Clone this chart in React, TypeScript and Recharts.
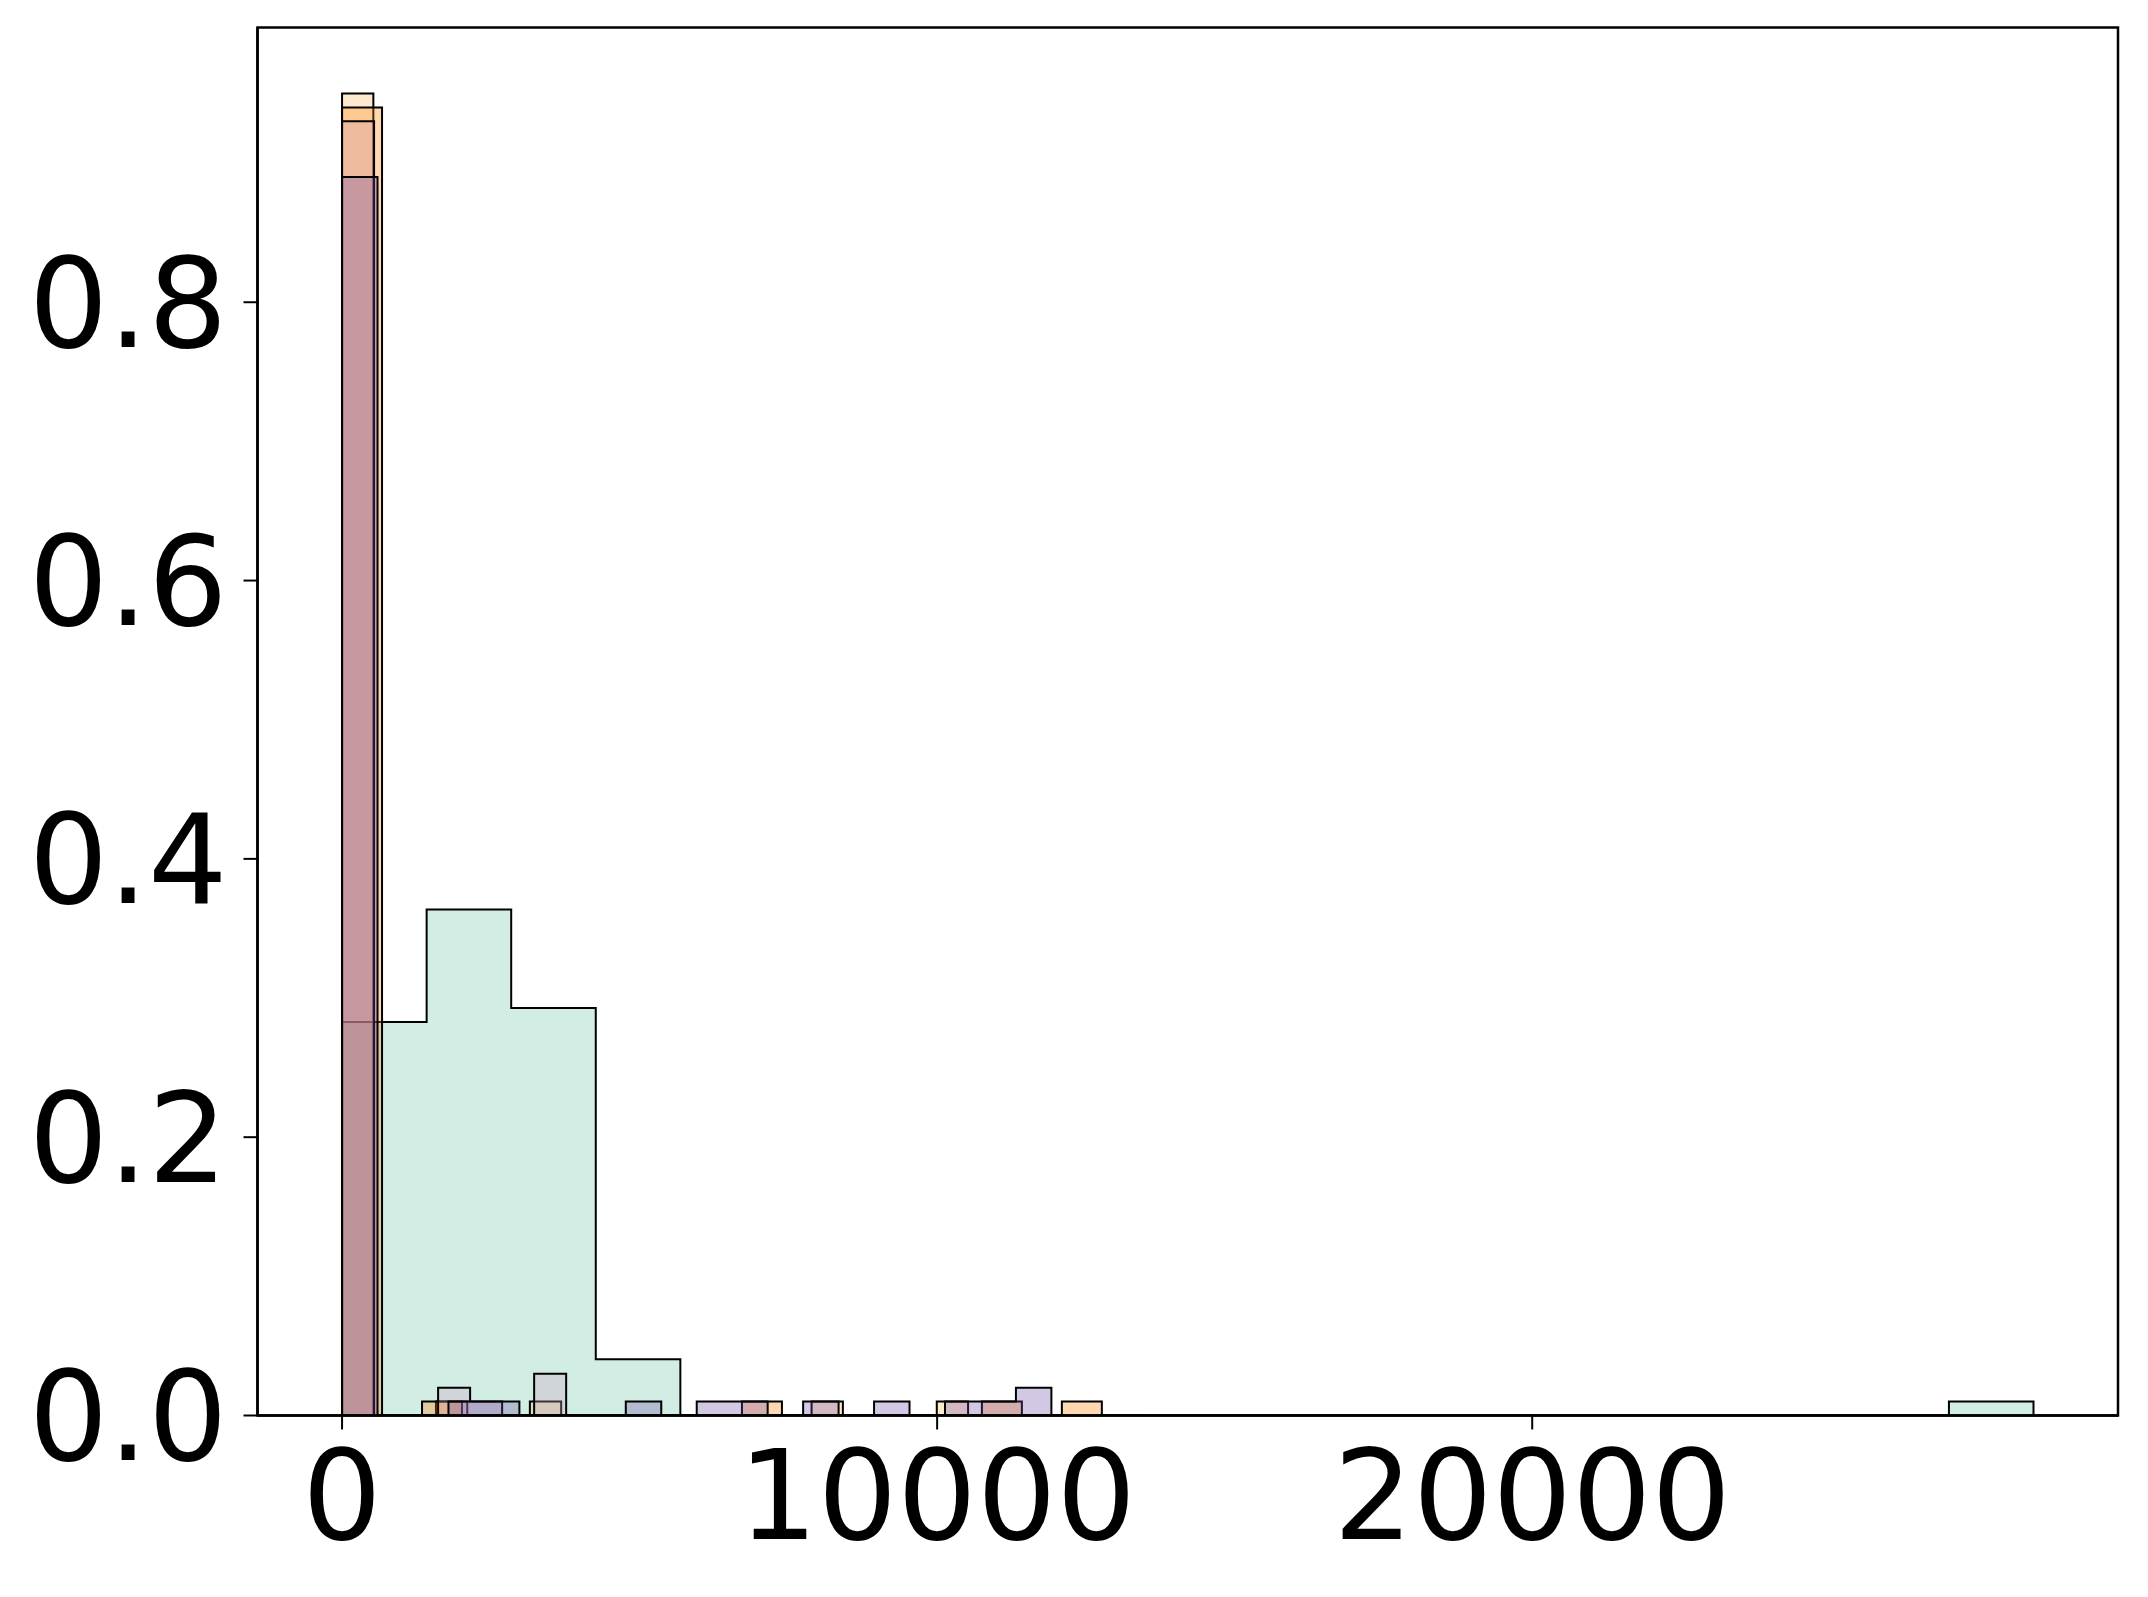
import React from "react";
import { Area, ComposedChart, ReferenceArea, XAxis, YAxis } from "recharts";

// x axis limits and ticks (data units)
const X_DOMAIN = [-1421, 29844];
const Y_DOMAIN = [0, 0.9975];
const X_TICKS = [0, 10000, 20000];
const Y_TICKS = [0, 0.2, 0.4, 0.6, 0.8];

// each series: first bin edge, bin width, and 20 bin heights (fraction of samples)
const tealStart = 0;
const tealWidth = 1421.2;
const tealCounts = [0.2828, 0.3636, 0.2929, 0.0404, 0, 0, 0, 0, 0, 0, 0, 0, 0, 0, 0, 0, 0, 0, 0, 0.0101];

const peachStart = 0;
const peachWidth = 526;
const peachCounts = [0.95, 0, 0, 0.01, 0, 0, 0.01, 0, 0, 0, 0, 0, 0, 0, 0, 0.01, 0, 0, 0, 0.01];

const orangeStart = 0;
const orangeWidth = 672;
const orangeCounts = [0.94, 0, 0.01, 0, 0, 0, 0, 0, 0, 0, 0.01, 0, 0, 0, 0, 0, 0.01, 0, 0.01, 0];

const pinkStart = 0;
const pinkWidth = 538;
const pinkCounts = [0.93, 0, 0, 0.02, 0.01, 0, 0.03, 0, 0, 0, 0, 0, 0, 0, 0, 0, 0, 0, 0, 0];

const purpleStart = 0;
const purpleWidth = 596;
const purpleCounts = [0.89, 0, 0, 0.01, 0.01, 0, 0, 0, 0.01, 0, 0.01, 0.01, 0, 0.01, 0, 0.01, 0, 0.01, 0.01, 0.02];

// stepfilled outline: drop to the baseline at both ends
function stepPoints(start: number, width: number, counts: number[]) {
  const pts = [{ x: start, y: 0 }];
  counts.forEach((c, i) => pts.push({ x: start + i * width, y: c }));
  pts.push({ x: start + counts.length * width, y: 0 });
  return pts;
}

const series = [
  { key: "teal", color: "#66c2a5", pts: stepPoints(tealStart, tealWidth, tealCounts) },
  { key: "peach", color: "#fdb462", pts: stepPoints(peachStart, peachWidth, peachCounts) },
  { key: "orange", color: "#ff7f00", pts: stepPoints(orangeStart, orangeWidth, orangeCounts) },
  { key: "pink", color: "#ca9fc0", pts: stepPoints(pinkStart, pinkWidth, pinkCounts) },
  { key: "purple", color: "#6c48a2", pts: stepPoints(purpleStart, purpleWidth, purpleCounts) },
];

const tickFont = { fontSize: 125, fill: "#000", fontFamily: "DejaVu Sans" };

export default function App() {
  return (
    <div style={{ position: "absolute", left: 0, top: 0, background: "#fff" }}>
      <ComposedChart width={2148} height={1597} margin={{ top: 27.4, right: 30, left: 0, bottom: 0 }}>
        <XAxis
          dataKey="x"
          type="number"
          domain={X_DOMAIN}
          allowDataOverflow
          ticks={X_TICKS}
          height={181.5}
          tick={tickFont}
          tickSize={14}
          tickMargin={21}
          axisLine={{ stroke: "#000", strokeWidth: 2.5 }}
          tickLine={{ stroke: "#000", strokeWidth: 2 }}
        />
        <YAxis
          type="number"
          domain={Y_DOMAIN}
          allowDataOverflow
          ticks={Y_TICKS}
          width={257.5}
          tick={tickFont}
          tickSize={14}
          tickMargin={16}
          tickFormatter={(v) => Number(v).toFixed(1)}
          axisLine={{ stroke: "#000", strokeWidth: 2.5 }}
          tickLine={{ stroke: "#000", strokeWidth: 2 }}
        />
        {series.map((s) => (
          <Area
            key={s.key}
            data={s.pts}
            dataKey="y"
            type="stepAfter"
            fill={s.color}
            fillOpacity={0.3}
            stroke="#000"
            strokeWidth={2}
            isAnimationActive={false}
          />
        ))}
        <ReferenceArea
          x1={X_DOMAIN[0]}
          x2={X_DOMAIN[1]}
          y1={Y_DOMAIN[0]}
          y2={Y_DOMAIN[1]}
          fill="none"
          stroke="#000"
          strokeWidth={2.5}
          ifOverflow="visible"
        />
      </ComposedChart>
    </div>
  );
}
